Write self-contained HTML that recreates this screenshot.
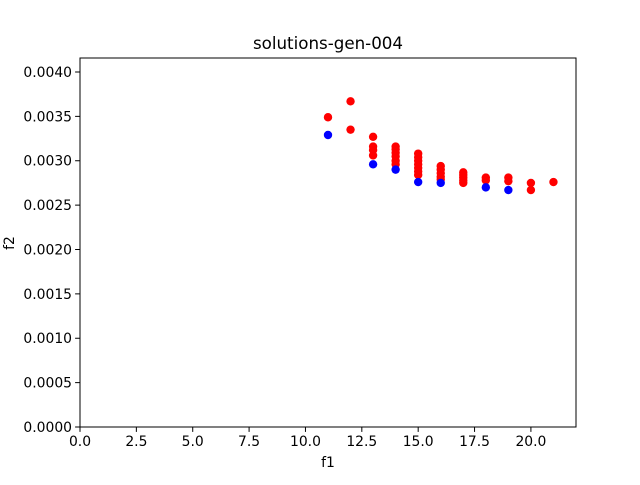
<!DOCTYPE html>
<html><head><meta charset="utf-8"><style>body{margin:0;background:#fff}svg text{font-family:"DejaVu Sans",sans-serif;font-size:13.9px;fill:#000}</style></head>
<body>
<svg id="chart" width="640" height="480">
<rect width="640" height="480" fill="#fff"/>
<text x="328" y="49" text-anchor="middle" font-size="16.7" style="font-size:16.7px">solutions-gen-004</text>
<g id="plot"></g>
<rect x="80" y="58" width="496" height="369" fill="none" stroke="#000" stroke-width="1"/>
<text x="328" y="467" text-anchor="middle">f1</text>
<text x="0" y="0" transform="translate(14,243) rotate(-90)" text-anchor="middle">f2</text>
</svg>
<script>
const xTicks=[0,2.5,5,7.5,10,12.5,15,17.5,20];
const xTickLabels=["0.0","2.5","5.0","7.5","10.0","12.5","15.0","17.5","20.0"];
const yTicks=[0,0.0005,0.001,0.0015,0.002,0.0025,0.003,0.0035,0.004];
const yTickLabels=["0.0000","0.0005","0.0010","0.0015","0.0020","0.0025","0.0030","0.0035","0.0040"];
const redX=[11,12,12,13,13,13,13,14,14,14,14,14,14,15,15,15,15,15,15,15,16,16,16,16,16,17,17,17,17,17,18,18,19,19,20,20,21];
const redY=[0.00349,0.00367,0.00335,0.00327,0.00316,0.00312,0.00306,0.00316,0.00313,0.00309,0.00305,0.00300,0.00296,0.00308,0.00304,0.00300,0.00296,0.00292,0.00288,0.00284,0.00294,0.00290,0.00286,0.00282,0.00279,0.00287,0.00284,0.00281,0.00278,0.00275,0.00281,0.00278,0.00281,0.00277,0.00275,0.00267,0.00276];
const blueX=[11,13,14,15,16,18,19];
const blueY=[0.00329,0.00296,0.00290,0.00276,0.00275,0.00270,0.00267];
const X0=80,X1=576,Y0=427,Y1=58,XMAX=22,YMAX=0.0041577;
const sx=v=>X0+v/XMAX*(X1-X0);
const sy=v=>Y0-v/YMAX*(Y0-Y1);
const NS="http://www.w3.org/2000/svg";
const svg=document.getElementById('chart');
const plot=document.getElementById('plot');
function mk(t,a,p){const e=document.createElementNS(NS,t);for(const k in a)e.setAttribute(k,a[k]);(p||svg).appendChild(e);return e;}
xTicks.forEach((v,i)=>{
 const l=mk('line',{x1:sx(v),x2:sx(v),y1:Y0,y2:Y0+4.9,stroke:'#000'});
 
 
 const t=mk('text',{x:sx(v),y:Y0+19,'text-anchor':'middle'});t.textContent=xTickLabels[i];
 
 
});
yTicks.forEach((v,i)=>{
 const l=mk('line',{x1:X0-4.9,x2:X0,y1:sy(v),y2:sy(v),stroke:'#000'});
 
 
 const t=mk('text',{x:X0-8,y:sy(v)+5,'text-anchor':'end'});t.textContent=yTickLabels[i];
 
 
});
redX.forEach((v,i)=>{
 const c=mk('circle',{cx:sx(v),cy:sy(redY[i]),r:4.2,fill:'#ff0000'},plot);
 
 
});
blueX.forEach((v,i)=>{
 const c=mk('circle',{cx:sx(v),cy:sy(blueY[i]),r:4.2,fill:'#0000ff'},plot);
 
 
});
</script>
</body></html>
